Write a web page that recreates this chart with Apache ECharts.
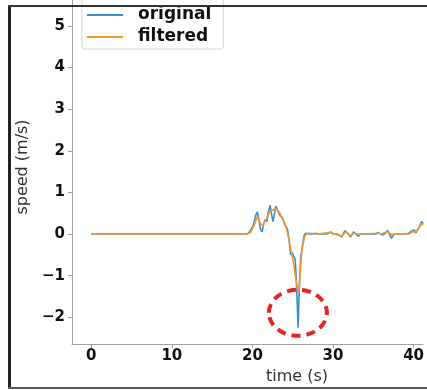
<!DOCTYPE html>
<html>
<head>
<meta charset="utf-8">
<script src="https://cdn.jsdelivr.net/npm/echarts@6/dist/echarts.min.js"></script>
<style>
html,body{margin:0;padding:0;background:#fff;overflow:hidden;}
#chart{width:427px;height:390px;}
</style>
</head>
<body>
<div id="chart"></div>
<script>
// ---- data ----
const seriesNames = ['original', 'filtered'];
const xTicks = [0, 10, 20, 30, 40];
const yTicks = [-2, -1, 0, 1, 2, 3, 4, 5];
const originalSpeed = [
  [0,0],[19.2,0],[19.5,0.02],[19.8,0.1],[20.1,0.2],[20.4,0.45],[20.6,0.53],[20.8,0.35],
  [21.0,0.12],[21.2,0.05],[21.4,0.25],[21.6,0.35],[21.8,0.3],[22.0,0.55],[22.2,0.69],
  [22.4,0.45],[22.55,0.3],[22.7,0.45],[22.9,0.67],[23.05,0.66],[23.2,0.55],[23.4,0.45],
  [23.7,0.4],[23.9,0.3],[24.1,0.2],[24.35,0.12],[24.55,-0.15],[24.75,-0.5],[24.95,-0.45],
  [25.15,-0.55],[25.3,-0.6],[25.45,-1.1],[25.55,-1.6],[25.67,-2.25],[25.77,-1.6],[25.87,-1.0],
  [26.0,-0.55],[26.2,-0.3],[26.4,-0.05],[26.6,0.02],[26.8,0.05],[27.0,0.0],[27.2,0.03],
  [27.5,0.0],[27.8,0.02],[28.2,0.0],[28.7,0.01],[29.2,0.0],[29.7,0.05],[30.1,0.0],[30.5,0.0],
  [30.8,-0.03],[31.1,-0.07],[31.3,0.02],[31.5,0.08],[31.9,0.0],[32.2,-0.07],[32.55,0.05],
  [32.85,0.0],[33.15,-0.05],[33.4,0.0],[33.9,0.0],[34.5,0.0],[35.3,0.0],[35.6,0.04],[35.9,0.0],
  [36.2,-0.02],[36.5,0.02],[36.8,0.09],[37.0,0.05],[37.1,-0.05],[37.25,-0.1],[37.6,0.0],
  [38.0,0.0],[38.5,0.0],[39.0,0.0],[39.4,0.02],[39.8,0.08],[40.1,0.1],[40.3,0.03],[40.5,0.1],
  [40.8,0.2],[41.0,0.3],[41.2,0.25]
];
const filteredSpeed = [
  [0,0],[19.4,0],[19.8,0.05],[20.2,0.2],[20.6,0.42],[21.0,0.25],[21.3,0.2],[21.7,0.35],
  [22.2,0.55],[22.6,0.58],[23.0,0.6],[23.4,0.5],[23.8,0.35],[24.2,0.15],[24.5,-0.1],
  [24.8,-0.4],[25.1,-0.7],[25.4,-1.1],[25.67,-1.4],[25.82,-1.3],[26.0,-0.7],[26.2,-0.3],
  [26.5,-0.05],[26.8,0.02],[27.2,0.02],[27.7,0.0],[28.2,0.0],[29.7,0.04],[30.1,0.0],
  [31.1,-0.05],[31.5,0.05],[31.8,0.02],[32.2,-0.04],[32.6,0.02],[33.2,0.0],[35.6,0.02],
  [36.0,0.0],[36.8,0.06],[37.25,-0.02],[37.7,0.0],[39.4,0.0],[39.9,0.06],[40.2,0.04],
  [40.5,0.1],[41.0,0.25],[41.2,0.22]
];
const circleCenter = [25.64, -1.89];

// ---- chart ----
const chart = echarts.init(document.getElementById('chart'), null, {renderer: 'canvas'});
const tickFont = {fontFamily: 'DejaVu Sans', fontWeight: 'bold', fontSize: 15, color: '#111'};
const axisGray = '#a0a0a0';

chart.setOption({
  animation: false,
  backgroundColor: '#fff',
  grid: {left: 72, right: 0, top: 0, bottom: 46, containLabel: false},
  legend: {
    orient: 'vertical',
    left: 82, top: -2,
    padding: [6, 12, 1, 5],
    itemGap: 0,
    itemWidth: 36, itemHeight: 2,
    icon: 'rect',
    backgroundColor: '#fff',
    borderColor: '#d4d4d4', borderWidth: 1, borderRadius: 3,
    textStyle: {fontFamily: 'DejaVu Sans', fontWeight: 'bold', fontSize: 17, color: '#111',
                lineHeight: 20, padding: [2, 0, 0, 10]},
    data: seriesNames
  },
  xAxis: {
    type: 'value', min: -2.39, max: 41.17,
    name: 'time (s)', nameLocation: 'middle', nameGap: 10,
    nameTextStyle: {fontFamily: 'DejaVu Sans', fontSize: 16, color: '#333', padding: [0, 0, 0, 99]},
    axisLine: {show: true, onZero: false, lineStyle: {color: axisGray, width: 1}},
    axisTick: {show: true, length: 4, customValues: xTicks, lineStyle: {color: axisGray}},
    axisLabel: Object.assign({customValues: xTicks, margin: 5}, tickFont),
    splitLine: {show: false}
  },
  yAxis: {
    type: 'value', min: -2.64, max: 5.62,
    name: 'speed (m/s)', nameLocation: 'middle', nameGap: 40, nameRotate: 90,
    nameTextStyle: {fontFamily: 'DejaVu Sans', fontSize: 16, color: '#333', padding: [0, 0, 0, 10]},
    axisLine: {show: true, onZero: false, lineStyle: {color: axisGray, width: 1}},
    axisTick: {show: true, length: 4, customValues: yTicks, lineStyle: {color: axisGray}},
    axisLabel: Object.assign({customValues: yTicks, margin: 7,
      formatter: v => (v < 0 ? '\u2212' + Math.abs(v) : String(v))}, tickFont),
    splitLine: {show: false}
  },
  series: [
    {name: seriesNames[0], type: 'line', data: originalSpeed, symbol: 'none',
     lineStyle: {color: '#3a8dcf', width: 1.6}, itemStyle: {color: '#3a8dcf'}, z: 2},
    {name: seriesNames[1], type: 'line', data: filteredSpeed, symbol: 'none',
     lineStyle: {color: '#f5962f', width: 1.6}, itemStyle: {color: '#f5962f'}, z: 3}
  ]
});

const c = chart.convertToPixel({gridIndex: 0}, circleCenter);
chart.setOption({
  graphic: [
    {type: 'ellipse', shape: {cx: c[0], cy: c[1], rx: 29, ry: 23}, z: 50,
     style: {fill: 'none', stroke: '#e52424', lineWidth: 4, lineDash: [9, 6]}},
    {type: 'rect', shape: {x: 8, y: 5, width: 3, height: 384}, z: 100, style: {fill: '#222'}},
    {type: 'rect', shape: {x: 8, y: 5, width: 419, height: 2}, z: 100, style: {fill: '#333'}},
    {type: 'rect', shape: {x: 8, y: 387, width: 419, height: 2}, z: 100, style: {fill: '#555'}}
  ]
});
</script>
</body>
</html>
